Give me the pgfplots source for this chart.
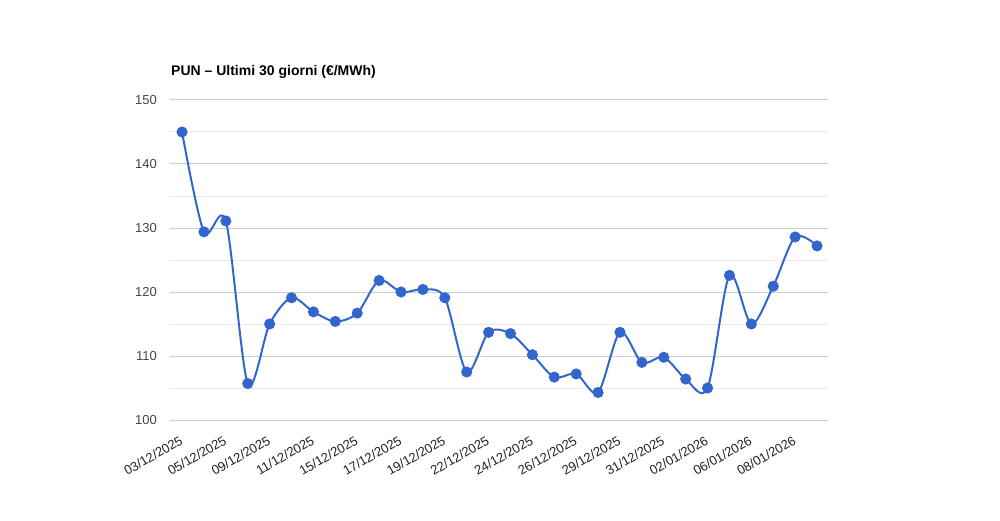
\documentclass[border=0pt]{standalone}
\usepackage{pgfplots}
\pgfplotsset{compat=1.18}
\usepackage{fontspec}
\setmainfont{Liberation Sans}
\definecolor{serie}{HTML}{3366CC}
\definecolor{gridmaj}{HTML}{CCCCCC}
\definecolor{gridmin}{HTML}{EBEBEB}
\definecolor{ylab}{HTML}{444444}
\definecolor{xlab}{HTML}{222222}
\pgfplotstableread{
x y
0 145.0
1 129.4
2 131.1
3 105.7
4 115.0
5 119.1
6 116.9
7 115.4
8 116.7
9 121.8
10 120.0
11 120.4
12 119.1
13 107.5
14 113.7
15 113.5
16 110.2
17 106.7
18 107.2
19 104.3
20 113.7
21 109.0
22 109.8
23 106.4
24 105.0
25 122.6
26 115.0
27 120.9
28 128.6
29 127.2
}\pundata
\begin{document}
\begin{tikzpicture}[x=1pt,y=1pt]
\useasboundingbox (0,0) rectangle (1000,520);
\begin{axis}[
  at={(170pt,100pt)}, anchor=south west,
  scale only axis, width=658pt, height=320pt,
  xmin=-0.55, xmax=29.5, ymin=100, ymax=150,
  ytick={100,110,...,150},
  minor ytick={105,115,...,145},
  ymajorgrids, yminorgrids,
  major grid style={draw=gridmaj, line width=1pt},
  minor grid style={draw=gridmin, line width=1pt},
  axis line style={draw=none},
  tick style={draw=none},
  major tick length=0pt, minor tick length=0pt,
  xtick={0,2,...,28},
  xticklabels={03/12/2025,05/12/2025,09/12/2025,11/12/2025,15/12/2025,17/12/2025,19/12/2025,22/12/2025,24/12/2025,26/12/2025,29/12/2025,31/12/2025,02/01/2026,06/01/2026,08/01/2026},
  xticklabel style={yshift=-15pt, xshift=-3pt, rotate=30, anchor=north east, inner sep=0pt, text=xlab, font=\fontsize{13}{15}\selectfont},
  yticklabel style={anchor=east, inner sep=0pt, xshift=-13pt, text=ylab, font=\fontsize{13}{15}\selectfont},
  /pgf/number format/assume math mode=true,
  title={PUN – Ultimi 30 giorni (€/MWh)},
  title style={at={(0,1)}, anchor=base west, inner sep=0pt, yshift=18pt, xshift=1pt, font=\fontsize{14}{16}\selectfont\bfseries},
  clip=false,
]
\addplot[serie, line width=2pt, smooth, tension=0.5, mark=*, mark size=4.5pt, mark options={fill=serie, draw=none}] table[x=x,y=y] {\pundata};
\end{axis}
\end{tikzpicture}
\end{document}
